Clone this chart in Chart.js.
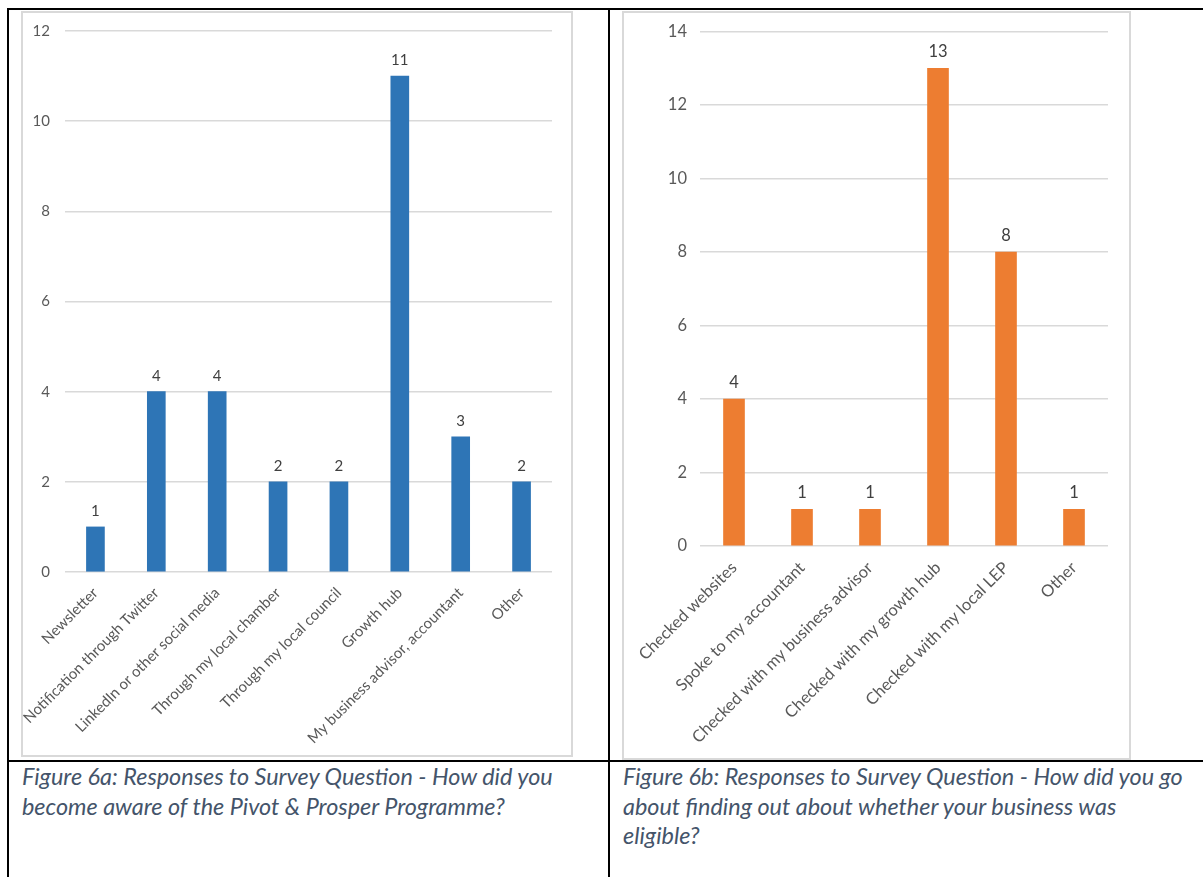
<!DOCTYPE html>
<html>
<head>
<meta charset="utf-8">
<title>Survey responses</title>
<script src="https://cdn.jsdelivr.net/npm/chart.js@4.4.0/dist/chart.umd.min.js"></script>
<style>
  html, body { margin: 0; padding: 0; background: #fff; }
  body { position: relative; width: 1203px; height: 877px; overflow: hidden; font-family: Lato, sans-serif; }
  .rule { position: absolute; background: #000; }
  .frame { position: absolute; border: 2px solid #d9d9d9; box-sizing: border-box; }
  canvas { position: absolute; }
  .caption {
    position: absolute; margin: 0; white-space: nowrap;
    font-style: italic; font-size: 23.4px; line-height: 29.5px; color: #44546a;
  }
</style>
</head>
<body>

<!-- table rules -->
<div class="rule" style="left:7px; top:8px; width:1196px; height:2px;"></div>
<div class="rule" style="left:7px; top:8px; width:2px; height:869px;"></div>
<div class="rule" style="left:608px; top:8px; width:2px; height:869px;"></div>
<div class="rule" style="left:7px; top:760px; width:1196px; height:2px;"></div>

<!-- left chart -->
<div class="frame" style="left:21px; top:11px; width:552px; height:746px;"></div>
<canvas id="aware-chart" width="550" height="744" style="left:22px; top:12px;"></canvas>
<p class="caption" style="left:22px; top:762px;">Figure 6a: Responses to Survey Question - How did you<br>become aware of the Pivot &amp; Prosper Programme?</p>

<!-- right chart -->
<div class="frame" style="left:622px; top:11px; width:509px; height:749px;"></div>
<canvas id="eligible-chart" width="507" height="747" style="left:623px; top:12px;"></canvas>
<p class="caption" style="left:623px; top:762px;">Figure 6b: Responses to Survey Question - How did you go<br>about finding out about whether your business was<br>eligible?</p>

<script>
// --------------------------
// DATA
// --------------------------
var awareLabels = [
  'Newsletter',
  'Notification through Twitter',
  'LinkedIn or other social media',
  'Through my local chamber',
  'Through my local council',
  'Growth hub',
  'My business advisor, accountant',
  'Other'
];
var awareCounts = [1, 4, 4, 2, 2, 11, 3, 2];
var awareTicks  = [0, 2, 4, 6, 8, 10, 12];

var eligibleLabels = [
  'Checked websites',
  'Spoke to my accountant',
  'Checked with my business advisor',
  'Checked with my growth hub',
  'Checked with my local LEP',
  'Other'
];
var eligibleCounts = [4, 1, 1, 13, 8, 1];
var eligibleTicks  = [0, 2, 4, 6, 8, 10, 12, 14];

var tickColor = '#595959';

// value printed above every bar
function barValueLabels(fontSize) {
  return {
    id: 'barValueLabels',
    afterDatasetsDraw: function(chart) {
      var ctx    = chart.ctx;
      var values = chart.data.datasets[0].data;
      ctx.save();
      ctx.font = fontSize + 'px Lato';
      ctx.fillStyle = '#404040';
      ctx.textAlign = 'center';
      ctx.textBaseline = 'alphabetic';
      chart.getDatasetMeta(0).data.forEach(function(bar, i) {
        ctx.fillText(String(values[i]), bar.x, bar.y - 11);
      });
      ctx.restore();
    }
  };
}

// --------------------------
// CHART BUILDER
// --------------------------
function buildBarChart(canvasId, labels, values, ticks, color, opts) {
  var font = { family: 'Lato', size: opts.fontSize };
  return new Chart(document.getElementById(canvasId), {
    type: 'bar',
    data: {
      labels: labels,
      datasets: [{
        data:            values,
        backgroundColor: color,
        borderWidth:     0,
        barThickness:    opts.barWidth
      }]
    },
    plugins: [barValueLabels(opts.fontSize)],
    options: {
      responsive: false,
      animation:  false,
      layout: { padding: { top: opts.padTop, right: opts.padRight, bottom: 0, left: 0 } },
      plugins: {
        legend:  { display: false },
        tooltip: { enabled: false }
      },
      scales: {
        x: {
          grid:   { display: false },
          border: { display: false },
          ticks: {
            autoSkip: false, minRotation: 45, maxRotation: 45, padding: 4,
            color: tickColor, font: font
          },
          afterFit: function(axis) { axis.height = opts.xHeight; }
        },
        y: {
          min: ticks[0],
          max: ticks[ticks.length - 1],
          afterBuildTicks: function(axis) {
            axis.ticks = ticks.map(function(v) { return { value: v }; });
          },
          grid:   { color: '#d9d9d9', lineWidth: 1.5, drawTicks: false },
          border: { display: false },
          ticks:  { padding: opts.yPad, color: tickColor, font: font },
          afterFit: function(axis) {
            // plot edges come from layout.padding only
            axis.width = opts.yWidth;
            axis.paddingTop = 0;
            axis.paddingBottom = 0;
          }
        }
      }
    }
  });
}

buildBarChart('aware-chart', awareLabels, awareCounts, awareTicks, '#2e75b6', {
  fontSize: 15, barWidth: 18, yWidth: 43, yPad: 15, xHeight: 184, padTop: 19, padRight: 20
});

buildBarChart('eligible-chart', eligibleLabels, eligibleCounts, eligibleTicks, '#ed7d31', {
  fontSize: 16.5, barWidth: 21, yWidth: 77, yPad: 13, xHeight: 213, padTop: 19.5, padRight: 22
});
</script>
</body>
</html>
